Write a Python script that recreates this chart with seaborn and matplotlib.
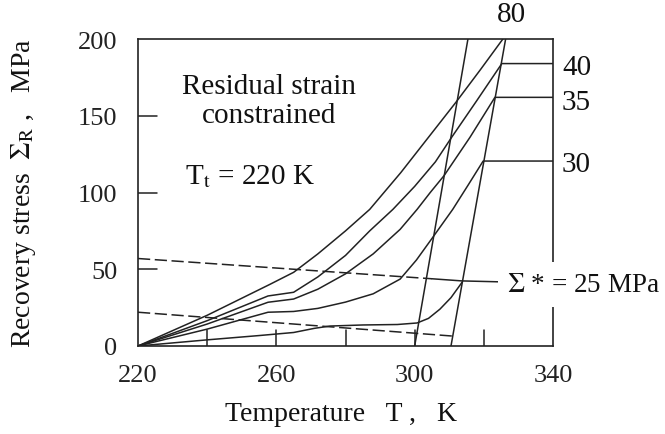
import matplotlib
matplotlib.use("Agg")
import matplotlib.pyplot as plt
import seaborn as sns
import pandas as pd

# ---- data ----
labels = ["80", "40", "35", "30", "25"]
T80 = [220, 240, 258, 265, 272, 280, 287, 296, 304, 312, 319, 325.5]
S80 = [0, 20, 40, 48, 60, 75, 89, 113, 136, 159, 180, 200]
T40 = [220, 240, 257.6, 265, 272, 280, 287, 293.7, 300, 306, 310.7, 318, 325.2, 340]
S40 = [0, 16.5, 32.6, 35, 45, 59, 75, 89, 104, 120, 136, 160, 184, 184]
T35 = [220, 240, 257.6, 265, 272, 280, 288, 295.8, 300.7, 304.5, 308.5, 316, 323.2, 340]
S35 = [0, 14.3, 28.5, 30.6, 37, 47, 60, 76, 89, 100, 111, 136, 162, 162]
T30 = [220, 240, 257.6, 265, 272, 280, 288, 295.8, 300.5, 305.3, 311, 315.5, 319.8, 340]
S30 = [0, 11, 22, 22.5, 24.5, 28.6, 34, 43.6, 56, 71, 89, 105, 120.5, 120.5]
T25 = [220, 240, 255, 265, 271, 275.5, 285, 295, 300.7, 304, 307.3, 310.5, 313.7]
S25 = [0, 4, 6.8, 8.8, 11.5, 13, 13.7, 14, 15, 18, 24, 31.5, 41.5]
steep1_T = [300, 315.4]
steep1_S = [0, 200]
steep2_T = [310.5, 326.3]
steep2_S = [0, 200]
dash_up_T = [220, 305]
dash_up_S = [57, 43.8]
lead_T = [305, 313.7, 326.5]
lead_S = [43.8, 42.4, 41.7]
dash_lo_T = [220, 310.8]
dash_lo_S = [22, 6.5]
xticks = [220, 260, 300, 340]
yticks = [0, 50, 100, 150, 200]
minor_x = [240, 260, 280, 300, 320]
minor_y = [50, 100, 150]

sns.set_theme(style="white")
plt.rcParams["font.family"] = ["Liberation Serif", "DejaVu Serif"]
plt.rcParams["mathtext.fontset"] = "stix"

frames = []
for lab, T, S in zip(labels, [T80, T40, T35, T30, T25], [S80, S40, S35, S30, S25]):
    frames.append(pd.DataFrame({"curve": lab, "T": T, "S": S}))
frames.append(pd.DataFrame({"curve": "s1", "T": steep1_T, "S": steep1_S}))
frames.append(pd.DataFrame({"curve": "s2", "T": steep2_T, "S": steep2_S}))
frames.append(pd.DataFrame({"curve": "lead", "T": lead_T, "S": lead_S}))
solid = pd.concat(frames, ignore_index=True)
dashed = pd.concat([
    pd.DataFrame({"curve": "du", "T": dash_up_T, "S": dash_up_S}),
    pd.DataFrame({"curve": "dl", "T": dash_lo_T, "S": dash_lo_S}),
], ignore_index=True)

ink = "#222222"
fig = plt.figure(figsize=(6.65, 4.35), dpi=100)
ax = fig.add_axes([0.2075, 0.2023, 0.6241, 0.7057])

sns.lineplot(data=solid, x="T", y="S", units="curve", estimator=None, sort=False,
             color=ink, lw=1.1, ax=ax, legend=False)
sns.lineplot(data=dashed, x="T", y="S", units="curve", estimator=None, sort=False,
             color=ink, lw=1.1, ax=ax, legend=False, dashes=False)
for ln in ax.lines[-2:]:
    ln.set_dashes((8, 3))

ax.set_xlim(220, 340)
ax.set_ylim(0, 200)
ax.set_xticks(xticks)
ax.set_yticks(yticks)
ax.tick_params(axis="both", length=0, labelsize=19, colors="#222")
ax.tick_params(axis="x", pad=13)
ax.tick_params(axis="y", pad=15)
for s in ax.spines.values():
    s.set_color("#222")
    s.set_linewidth(1.2)

# inward ticks
for x in minor_x:
    ax.plot([x, x], [0, 10.5], color=ink, lw=1.1)
for y in minor_y:
    ax.plot([220, 225.5], [y, y], color=ink, lw=1.1)

ax.set_xlabel("Temperature   T ,   K", fontsize=20, color="#111")
ax.xaxis.set_label_coords(0.49, -0.18)
ax.set_ylabel("Recovery stress  $\\Sigma_\\mathrm{R}$ ,   MPa", fontsize=20, color="#111")
ax.yaxis.set_label_coords(-0.24, 0.5)

tk = dict(fontsize=21, color="#111")
ax.text(258, 160, "Residual strain\nconstrained", ha="center", va="center",
        linespacing=1.15, **tk)
ax.text(233.7, 111, "T$_\\mathrm{t}$ = 220 K", ha="left", va="center", **tk)
ax.text(328, 216, "80", ha="center", va="center", clip_on=False, **tk)
ax.text(342.6, 182, "40", ha="left", va="center", clip_on=False, **tk)
ax.text(342.6, 159, "35", ha="left", va="center", clip_on=False, **tk)
ax.text(342.6, 118.5, "30", ha="left", va="center", clip_on=False, **tk)
ax.text(326.8, 40, "$\\Sigma$ * = 25 MPa", ha="left", va="center", clip_on=False,
        fontsize=19.5, color="#111",
        bbox=dict(facecolor="white", edgecolor="none", pad=7), zorder=5)

fig.savefig("out.png", dpi=100, facecolor="white")
